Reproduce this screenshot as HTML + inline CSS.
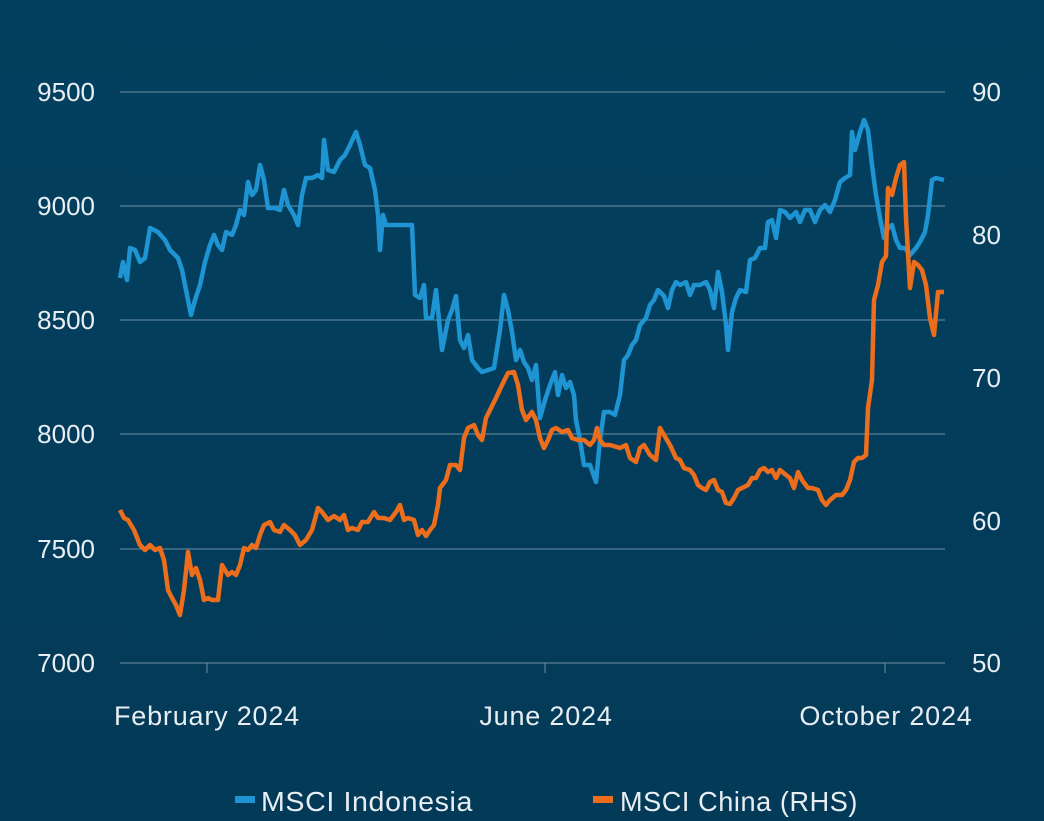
<!DOCTYPE html>
<html><head><meta charset="utf-8"><style>
html,body{margin:0;padding:0;background:#03405f;}
svg{display:block;font-family:"Liberation Sans",sans-serif;}
</style></head><body>
<svg width="1044" height="821" viewBox="0 0 1044 821">
<defs><linearGradient id="bg" x1="0" y1="0" x2="0" y2="1"><stop offset="0" stop-color="#03405f"/><stop offset="1" stop-color="#033a57"/></linearGradient></defs>
<rect width="1044" height="821" fill="url(#bg)"/>
<g stroke="#6f8fa3" stroke-width="1">
<line x1="120" x2="945" y1="92" y2="92"/><line x1="120" x2="945" y1="206" y2="206"/>
<line x1="120" x2="945" y1="320" y2="320"/><line x1="120" x2="945" y1="434" y2="434"/>
<line x1="120" x2="945" y1="549" y2="549"/><line x1="120" x2="945" y1="663" y2="663"/>
<line x1="207" x2="207" y1="663" y2="673"/><line x1="545" x2="545" y1="663" y2="673"/><line x1="885" x2="885" y1="663" y2="673"/>
</g>
<g fill="#e8eef2" font-size="26" text-anchor="end">
<text x="95" y="101">9500</text><text x="95" y="215">9000</text><text x="95" y="329">8500</text>
<text x="95" y="443">8000</text><text x="95" y="558">7500</text><text x="95" y="672">7000</text>
</g>
<g fill="#e8eef2" font-size="26" text-anchor="start">
<text x="972" y="101">90</text><text x="972" y="244">80</text><text x="972" y="387">70</text>
<text x="972" y="530">60</text><text x="972" y="672">50</text>
</g>
<g fill="#e8eef2" font-size="27" text-anchor="middle" letter-spacing="0.8">
<text x="207" y="725">February 2024</text><text x="546" y="725">June 2024</text><text x="886" y="725">October 2024</text>
</g>
<polyline fill="none" stroke="#1e94d2" stroke-width="4.5" stroke-linejoin="round" points="120,278 123,262 127,280 130,248 135,250 140,262 145,258 150,228 158,232 165,240 170,250 178,258 182,270 188,300 191,315 195,300 200,285 205,262 210,245 214,235 218,245 222,250 226,232 232,235 236,225 240,210 244,215 248,182 252,195 256,190 260,165 264,180 268,208 275,208 280,210 284,190 288,205 294,215 298,225 302,195 306,178 312,178 318,175 322,178 324,140 328,170 334,172 340,160 345,155 350,145 356,132 360,145 365,165 370,168 375,190 378,215 380,250 383,215 386,225 395,225 405,225 412,225 415,295 420,298 424,285 426,318 432,318 436,290 442,350 448,320 452,310 456,296 460,340 464,348 468,335 472,360 478,368 482,372 488,370 494,368 500,330 504,295 508,310 512,332 516,360 520,350 524,362 528,368 532,380 536,365 540,418 545,400 550,385 555,372 558,395 562,375 566,388 570,382 574,395 576,420 580,440 584,465 590,465 596,482 600,440 604,412 610,412 615,415 620,395 624,360 628,355 632,345 636,340 640,325 646,318 650,305 654,300 658,290 664,296 668,308 672,290 676,282 680,285 686,282 690,295 694,285 700,285 706,282 710,290 714,308 718,272 722,292 726,325 728,350 732,312 736,298 740,290 746,292 750,260 755,258 760,248 765,248 768,222 772,220 776,238 780,210 785,212 790,218 796,212 800,222 805,210 810,210 815,222 820,210 825,205 830,212 835,200 840,182 845,178 850,175 852,132 855,150 860,132 864,120 868,130 872,165 876,195 880,218 884,238 888,228 892,225 896,240 900,248 905,248 910,255 916,248 920,242 925,232 928,215 932,180 936,178 944,180"/>
<polyline fill="none" stroke="#ec6d1c" stroke-width="4.5" stroke-linejoin="round" points="120,510 124,518 128,520 134,530 140,545 145,550 150,545 155,550 160,548 164,560 168,590 172,598 176,605 180,615 184,590 188,552 192,575 196,568 200,580 204,600 208,598 212,600 218,600 222,565 228,575 232,572 236,575 240,565 244,548 248,550 252,545 256,548 260,535 264,525 270,522 274,530 280,532 284,525 290,530 295,535 300,545 306,540 312,530 318,508 322,512 328,520 334,516 340,520 344,515 348,530 352,528 358,530 362,522 368,522 374,512 378,518 384,518 390,520 396,512 400,505 404,520 408,518 414,520 418,535 422,530 426,536 430,530 434,525 438,505 440,488 446,480 450,465 456,465 460,470 464,438 468,428 474,425 478,435 482,440 486,418 490,410 496,398 502,385 508,373 514,372 518,385 522,410 526,420 532,412 536,420 540,438 544,448 548,440 552,430 556,428 562,432 568,430 572,438 578,440 584,440 590,445 594,440 597,428 600,440 604,445 610,445 620,448 626,445 630,458 636,462 640,448 644,445 650,455 656,460 660,428 664,435 670,445 676,458 680,460 684,468 690,470 694,475 698,485 702,488 706,490 710,482 714,480 718,490 722,492 726,503 730,504 734,498 738,490 742,488 748,485 752,478 756,478 760,470 764,468 768,472 772,470 776,478 780,470 786,475 790,478 794,488 798,472 802,480 808,488 812,488 818,490 822,500 826,505 830,500 836,495 842,495 846,490 850,480 854,462 858,458 862,458 866,455 868,408 872,380 874,300 878,285 882,262 886,256 888,188 892,195 896,178 900,165 904,162 906,218 910,288 914,262 918,265 922,270 926,285 930,318 934,335 938,292 944,292"/>
<rect x="235" y="796" width="20" height="7" fill="#1e94d2"/>
<text x="261" y="811" fill="#e8eef2" font-size="28" letter-spacing="0.6" textLength="212" lengthAdjust="spacingAndGlyphs">MSCI Indonesia</text>
<rect x="593" y="796" width="20" height="7" fill="#ec6d1c"/>
<text x="620" y="811" fill="#e8eef2" font-size="28" letter-spacing="0.6" textLength="238" lengthAdjust="spacingAndGlyphs">MSCI China (RHS)</text>
</svg>
</body></html>
